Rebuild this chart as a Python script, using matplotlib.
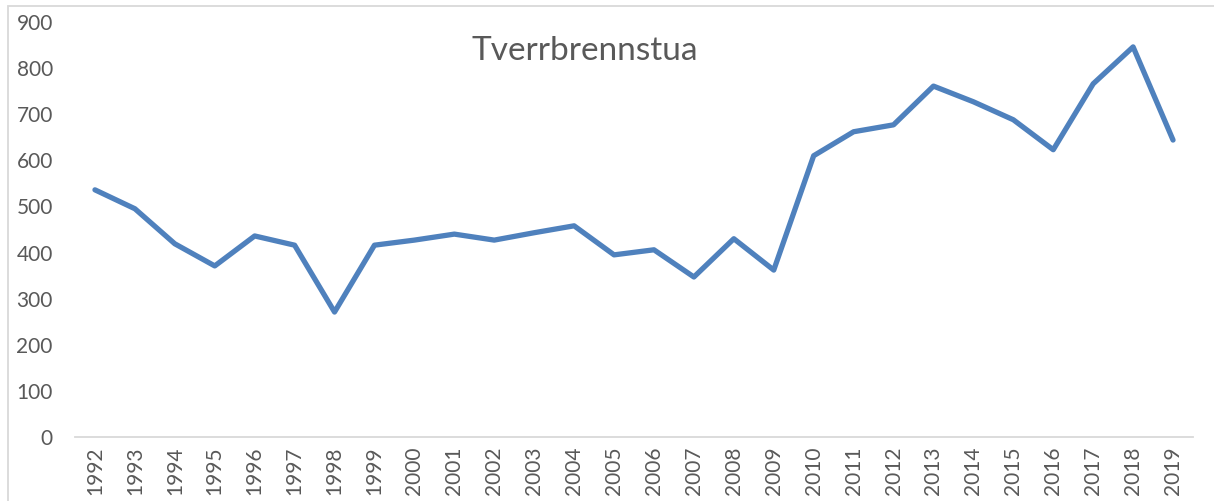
import matplotlib
matplotlib.use("Agg")
import matplotlib.pyplot as plt
from matplotlib.patches import Rectangle

years = [str(y) for y in range(1992, 2020)]
values = [536, 495, 419, 371, 436, 416, 271, 416, 427, 440, 427, 443, 458, 395,
          406, 347, 430, 362, 610, 662, 677, 761, 727, 688, 623, 766, 846, 644]
yticks = [0, 100, 200, 300, 400, 500, 600, 700, 800, 900]
title = "Tverrbrennstua"

plt.rcParams['font.family'] = ['Lato', 'DejaVu Sans']

fig = plt.figure(figsize=(12.14, 5.01), dpi=100)
W, H = 1214, 501
ax = fig.add_axes([75 / W, 1 - 437 / H, (1193 - 75) / W, (437 - 22) / H])

x = list(range(len(years)))
ax.plot(x, values, color='#4F81BD', linewidth=3.8, solid_capstyle='round', solid_joinstyle='round')

ax.set_xlim(-0.5, len(years) - 0.5)
ax.set_ylim(0, 900)
ax.set_yticks(yticks)
ax.set_xticks(x)
ax.set_xticklabels(years, rotation=90, fontsize=15, color='#595959')
ax.tick_params(axis='y', length=0, labelsize=15, labelcolor='#595959', pad=16)
ax.tick_params(axis='x', length=0, pad=7)

for s in ['top', 'right', 'left']:
    ax.spines[s].set_visible(False)
ax.spines['bottom'].set_color('#D9D9D9')
ax.spines['bottom'].set_linewidth(1.3)

fig.text(585 / W, 1 - 51 / H, title, ha='center', va='center', fontsize=24, color='#595959')

fig.patches.append(Rectangle((8 / W, -0.1), 1.2, 1 - 6 / H + 0.1, transform=fig.transFigure,
                             fill=False, edgecolor='#D9D9D9', linewidth=1.3))

fig.savefig('out.png', dpi=100)
